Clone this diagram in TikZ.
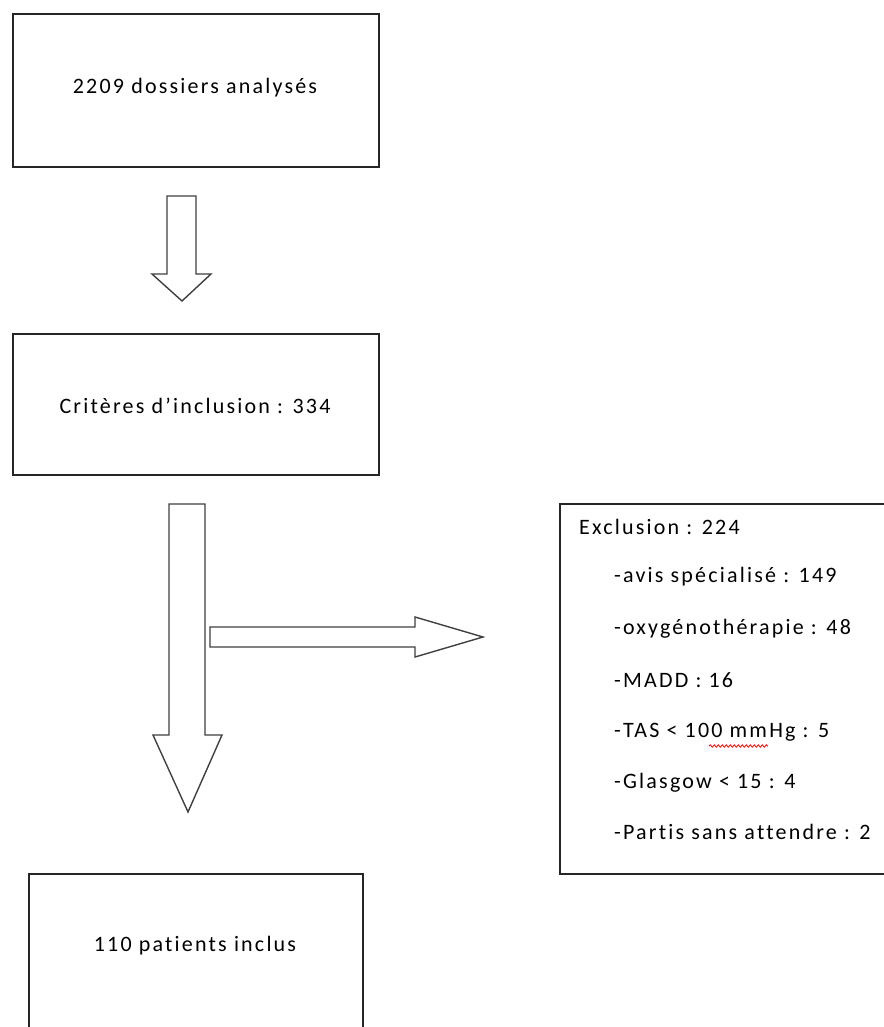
\documentclass[tikz,border=0pt]{standalone}
\usepackage{fontspec}
\setmainfont{Carlito}
\newfontfamily\boxfont[LetterSpace=10,Ligatures=NoCommon]{Carlito}
\usetikzlibrary{decorations.pathmorphing}
\tikzset{
  frame/.style={draw=black!85, line width=2pt, fill=white, anchor=north west, inner sep=0pt},
  blockarrow/.style={draw=black!75, line width=1.4pt, fill=white, line join=miter},
  lbl/.style={font=\boxfont\fontsize{22}{26}\selectfont, text=black, inner sep=0pt},
  item/.style={font=\boxfont\fontsize{22}{26}\selectfont, text=black, inner sep=0pt, anchor=west},
}
\begin{document}
\begin{tikzpicture}[x=1pt,y=-1pt]
\useasboundingbox (0,0) rectangle (883,1027);
\fill[white] (0,0) rectangle (883,1027);
% boxes
\node[frame, minimum width=366pt, minimum height=153pt] (b1) at (12,13) {};
\node[lbl] (t1) at (195,88) {2209 dossiers analysés};
\node[frame, minimum width=366pt, minimum height=141pt] (b2) at (12,333) {};
\node[lbl] (t2) at (195,406) {Critères d’inclusion : 334};
\node[frame, minimum width=360pt, minimum height=370pt] (b3) at (559,503) {};
\node[frame, minimum width=334pt, minimum height=200pt] (b4) at (28,873) {};
\node[lbl] (t4) at (195,946) {110 patients inclus};
% exclusion list
\node[item] (e0) at (579,527) {Exclusion : 224};
\node[item] (e1) at (614,577) {-avis spécialisé : 149};
\node[item] (e2) at (614,629) {-oxygénothérapie : 48};
\node[item] (e3) at (614,680) {-MADD : 16};
\node[item] (e4) at (614,732) {-TAS < 100 mmHg : 5};
\node[item] (e5) at (614,783) {-Glasgow < 15 : 4};
\node[item] (e6) at (614,832) {-Partis sans attendre : 2};
% red spell-check squiggle under mmHg
\draw[red, line width=0.8pt, decorate, decoration={snake, amplitude=1.2pt, segment length=4pt}] (709,746) -- (768,746);
% block arrows
\draw[blockarrow] (167,196) -- (196,196) -- (196,274) -- (211,274) -- (182,301) -- (152,274) -- (167,274) -- cycle;
\draw[blockarrow] (169,504) -- (205,504) -- (205,735) -- (222,735) -- (188,812) -- (153,735) -- (169,735) -- cycle;
\draw[blockarrow] (210,627) -- (415,627) -- (415,617) -- (483,637) -- (415,657) -- (415,647) -- (210,647) -- cycle;
\end{tikzpicture}
\end{document}
